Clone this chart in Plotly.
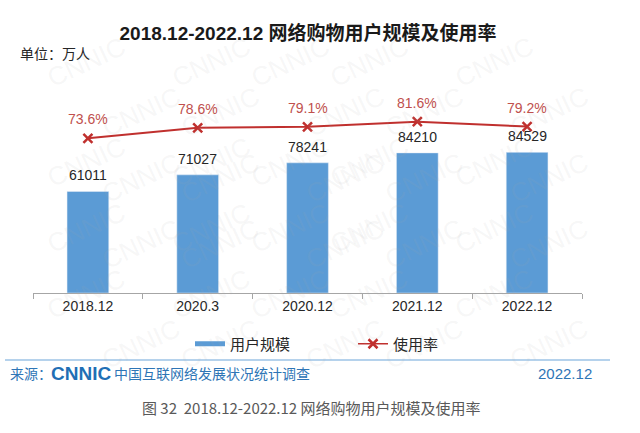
import plotly.graph_objects as go

# ---- data ----
categories = ["2018.12", "2020.3", "2020.12", "2021.12", "2022.12"]
users = [61011, 71027, 78241, 84210, 84529]          # 用户规模 (万人)
rate = [73.6, 78.6, 79.1, 81.6, 79.2]                # 使用率 (%)
rate_labels = ["73.6%", "78.6%", "79.1%", "81.6%", "79.2%"]

W, H = 640, 433
L, R, T, B = 33, 58, 100, 140
PW, PH = W - L - R, H - T - B

def px(x):
    return (x - L) / PW

def py(y):
    return (H - B - y) / PH

BAR = "#5B9BD5"
RED = "#C0302E"
RED_TXT = "#C0504D"
BLUE_TXT = "#2E75B6"
LAT = "Liberation Sans, Arial, Noto Sans CJK SC, sans-serif"
CJK = "Noto Sans CJK SC, Liberation Sans, sans-serif"

fig = go.Figure()

fig.add_trace(go.Bar(
    x=categories, y=users, marker_color=BAR, showlegend=False,
    name="用户规模", hoverinfo="x+y"))

fig.add_trace(go.Scatter(
    x=categories, y=rate, yaxis="y2", mode="lines+markers", showlegend=False,
    name="使用率", line=dict(color=RED, width=2),
    marker=dict(symbol="x-thin", size=9, line=dict(color=RED, width=2.5), color=RED)))

# legend dummies
fig.add_trace(go.Scatter(
    x=[None], y=[None], mode="lines", name="用户规模",
    line=dict(color=BAR, width=5)))
fig.add_trace(go.Scatter(
    x=[None], y=[None], mode="lines+markers", name="使用率",
    line=dict(color=RED, width=1.5),
    marker=dict(symbol="x-thin", size=9, line=dict(color=RED, width=2.5), color=RED)))

ann = []
# watermark (drawn first so it sits beneath other annotations)
for row in range(8):
    for col in range(5):
        xw = 40 + col * 125 + (row % 2) * 55
        yw = 28 + row * 50
        if xw > 610:
            continue
        ann.append(dict(x=px(xw), y=py(yw), xref="paper", yref="paper", text="CNNIC",
                        showarrow=False, textangle=-25,
                        font=dict(family=LAT, size=26, color="rgba(170,170,170,0.10)")))

# bar value labels (x given as category index)
for i, v in enumerate(users):
    ann.append(dict(x=i, y=v, xref="x", yref="y", text=str(v), showarrow=False,
                    yanchor="bottom", yshift=6, font=dict(family=LAT, size=14, color="#262626")))
# rate labels
for i, (r, t) in enumerate(zip(rate, rate_labels)):
    ann.append(dict(x=i, y=r, xref="x", yref="y2", text=t, showarrow=False,
                    yanchor="bottom", yshift=9, font=dict(family=LAT, size=14, color=RED_TXT)))

# header / footer texts
ann += [
    dict(x=px(18), y=py(53), xref="paper", yref="paper", text="单位：万人", showarrow=False,
         xanchor="left", yanchor="middle", font=dict(family=CJK, size=14, color="#262626")),
    dict(x=px(8), y=py(373), xref="paper", yref="paper", text="来源：", showarrow=False,
         xanchor="left", yanchor="middle", font=dict(family=CJK, size=14, color=BLUE_TXT)),
    dict(x=px(49), y=py(373), xref="paper", yref="paper", text="<b>CNNIC</b>", showarrow=False,
         xanchor="left", yanchor="middle", font=dict(family=LAT, size=19, color="#1F6FB5")),
    dict(x=px(112), y=py(373), xref="paper", yref="paper", text="中国互联网络发展状况统计调查",
         showarrow=False, xanchor="left", yanchor="middle",
         font=dict(family=CJK, size=14, color=BLUE_TXT)),
    dict(x=px(594), y=py(373), xref="paper", yref="paper", text="2022.12", showarrow=False,
         xanchor="right", yanchor="middle", font=dict(family=LAT, size=15, color=BLUE_TXT)),
    dict(x=px(140), y=py(407), xref="paper", yref="paper",
         text="图 32  2018.12-2022.12 网络购物用户规模及使用率", showarrow=False,
         xanchor="left", yanchor="middle", font=dict(family=CJK, size=15, color="#595959")),
]

fig.update_layout(
    width=W, height=H,
    margin=dict(l=L, r=R, t=T, b=B, pad=0, autoexpand=False),
    paper_bgcolor="white", plot_bgcolor="white",
    title=dict(text="<b>2018.12-2022.12 网络购物用户规模及使用率</b>",
               x=308 / W, xanchor="center", y=1 - 33 / H, yanchor="middle",
               font=dict(family=LAT, size=19, color="#1a1a1a")),
    bargap=0.62,
    xaxis=dict(type="category", categoryorder="array", categoryarray=categories,
               range=[-0.5, len(categories) - 0.5], autorange=False,
               showline=True, linecolor="#A6A6A6", linewidth=1,
               tickson="boundaries", ticks="outside", ticklen=5, tickcolor="#A6A6A6",
               tickangle=0,
               tickfont=dict(family=LAT, size=14, color="#262626"),
               showgrid=False, zeroline=False, fixedrange=True),
    yaxis=dict(range=[0, 116000], visible=False, showgrid=False, zeroline=False),
    yaxis2=dict(range=[-0.8, 92.0], overlaying="y", side="right", visible=False,
                showgrid=False, zeroline=False),
    showlegend=True,
    legend=dict(orientation="h", x=px(190), xanchor="left", y=py(344), yanchor="middle",
                entrywidth=118, entrywidthmode="pixels", bgcolor="rgba(0,0,0,0)",
                font=dict(family=CJK, size=15, color="#262626"), traceorder="normal"),
    annotations=ann,
    shapes=[dict(type="line", xref="paper", yref="paper", x0=px(5), x1=px(610),
                 y0=py(360), y1=py(360), line=dict(color="#9DC3E6", width=1.5))],
)

fig.write_html("out.html", config={"displayModeBar": False},
               post_script="document.body.style.margin='0';document.body.style.overflow='hidden';")
